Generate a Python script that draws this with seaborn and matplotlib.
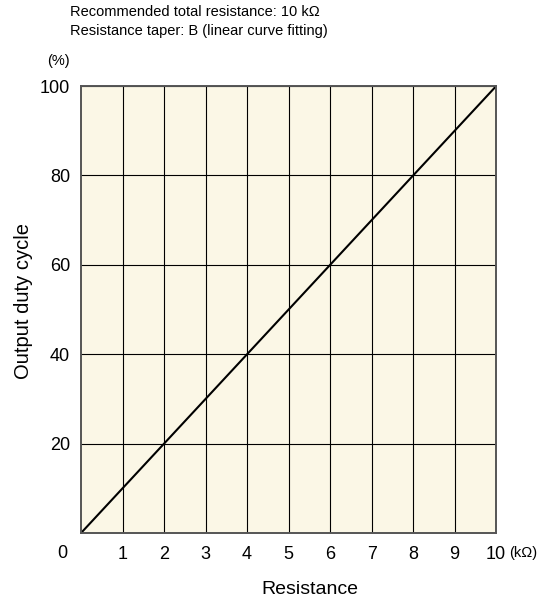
import matplotlib
matplotlib.use("Agg")
import matplotlib.pyplot as plt
import seaborn as sns
import pandas as pd

# Data
resistance_kohm = [0, 1, 2, 3, 4, 5, 6, 7, 8, 9, 10]
duty_cycle_pct = [0, 10, 20, 30, 40, 50, 60, 70, 80, 90, 100]
x_ticks = [1, 2, 3, 4, 5, 6, 7, 8, 9, 10]
y_ticks = [20, 40, 60, 80, 100]

df = pd.DataFrame({"resistance": resistance_kohm, "duty": duty_cycle_pct})

sns.set_theme(style="white")
plt.rcParams["font.family"] = ["Liberation Sans", "DejaVu Sans"]
plt.rcParams["text.color"] = "black"

fig = plt.figure(figsize=(5.55, 6.02), dpi=100)
ax = fig.add_axes([0.146, 0.1146, 0.748, 0.7424])
ax.set_facecolor("#fbf7e6")

sns.lineplot(data=df, x="resistance", y="duty", color="black", linewidth=1.5, ax=ax)

ax.set_xlim(0, 10)
ax.set_ylim(0, 100)
ax.set_xticks(x_ticks)
ax.set_yticks(y_ticks)
ax.tick_params(axis="both", length=0, labelsize=13, colors="black")
ax.tick_params(axis="x", pad=9)
ax.tick_params(axis="y", pad=8)
ax.grid(True, color="black", linewidth=0.8)
for s in ax.spines.values():
    s.set_color("#555555")
    s.set_linewidth(1.4)

ax.set_xlabel("")
ax.set_ylabel("")

# corner zero and units
fig.text(62 / 555, 1 - 554 / 602, "0", ha="center", va="center", fontsize=13)
fig.text(509 / 555, 1 - 553 / 602, "(k\u03a9)", ha="left", va="center", fontsize=10.5)
fig.text(47 / 555, 1 - 61 / 602, "(%)", ha="left", va="center", fontsize=10.5)
fig.text(24 / 555, 1 - 301 / 602, "Output duty cycle", rotation=90,
         ha="center", va="center", fontsize=14.5)
fig.text(310 / 555, 1 - 590 / 602, "Resistance", ha="center", va="center", fontsize=14)
fig.text(70 / 555, 1 - 12 / 602, "Recommended total resistance: 10 k\u03a9",
         ha="left", va="center", fontsize=10.5)
fig.text(70 / 555, 1 - 31 / 602, "Resistance taper: B (linear curve fitting)",
         ha="left", va="center", fontsize=10.5)

fig.savefig("out.png", dpi=100)
